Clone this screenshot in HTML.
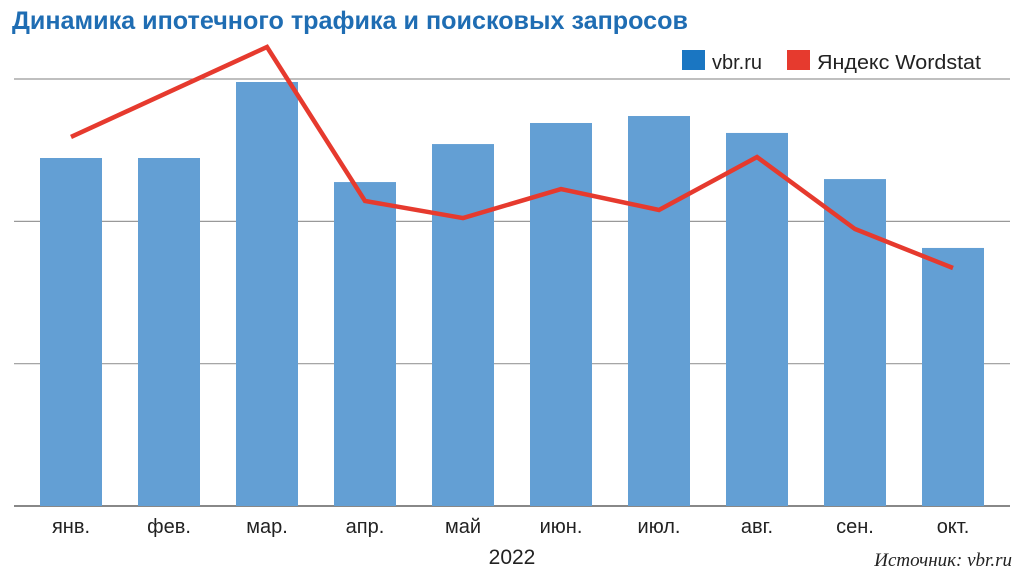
<!DOCTYPE html>
<html><head><meta charset="utf-8"><style>
body{margin:0;background:#fff;width:1024px;height:576px;overflow:hidden;font-family:"Liberation Sans",sans-serif}
</style></head><body>
<svg width="1024" height="576">
<text x="12" y="29" font-size="25" font-weight="bold" fill="#1f6db3" textLength="676" lengthAdjust="spacingAndGlyphs">Динамика ипотечного трафика и поисковых запросов</text>
<g>
<rect x="682" y="50" width="23" height="20" fill="#1a76c2"/>
<text x="712" y="69" font-size="20" fill="#222">vbr.ru</text>
<rect x="787" y="50" width="23" height="20" fill="#e63a2e"/>
<text x="817" y="69" font-size="20" fill="#222" textLength="164" lengthAdjust="spacingAndGlyphs">Яндекс Wordstat</text>
</g>
<g id="grid"></g><g id="bars"></g><g id="line"></g><g id="xlabels"></g>
<text x="512" y="564" font-size="21" text-anchor="middle" fill="#222">2022</text>
<text x="1012" y="566" font-size="19" font-style="italic" font-family="Liberation Serif,serif" text-anchor="end" fill="#222">Источник: vbr.ru</text>
</svg>
<script>
const categories=["янв.","фев.","мар.","апр.","май","июн.","июл.","авг.","сен.","окт."];
const vbrValues=[2.445,2.445,2.979,2.276,2.543,2.691,2.740,2.621,2.297,1.813];
const wordstatValues=[2.593,2.909,3.225,2.143,2.023,2.227,2.080,2.452,1.946,1.672];
const gridTicks=[1,2,3];
const NS="http://www.w3.org/2000/svg";
const x0=22,step=98,base=506,unit=142.33,bw=62;
const xc=i=>x0+step*(i+0.5);
const y=v=>base-v*unit;
function mk(t,a,p){const e=document.createElementNS(NS,t);for(const k in a)e.setAttribute(k,a[k]);document.getElementById(p).appendChild(e);return e;}
gridTicks.forEach(t=>{const g=mk("line",{x1:14,x2:1010,y1:y(t),y2:y(t),stroke:"#999","stroke-width":1.2},"grid");

});
const ax=mk("line",{x1:14,x2:1010,y1:base,y2:base,stroke:"#888","stroke-width":2},"grid");


vbrValues.forEach((v,i)=>{const r=mk("rect",{x:xc(i)-bw/2,y:y(v),width:bw,height:base-y(v),fill:"#639fd4"},"bars");

});
const pl=mk("polyline",{points:wordstatValues.map((v,i)=>xc(i)+","+y(v)).join(" "),fill:"none",stroke:"#e63a2e","stroke-width":4.5,"stroke-linejoin":"miter"},"line");


categories.forEach((c,i)=>{const t=mk("text",{x:xc(i),y:533,"font-size":20,"text-anchor":"middle",fill:"#222"},"xlabels");t.textContent=c;

});
</script>
</body></html>
